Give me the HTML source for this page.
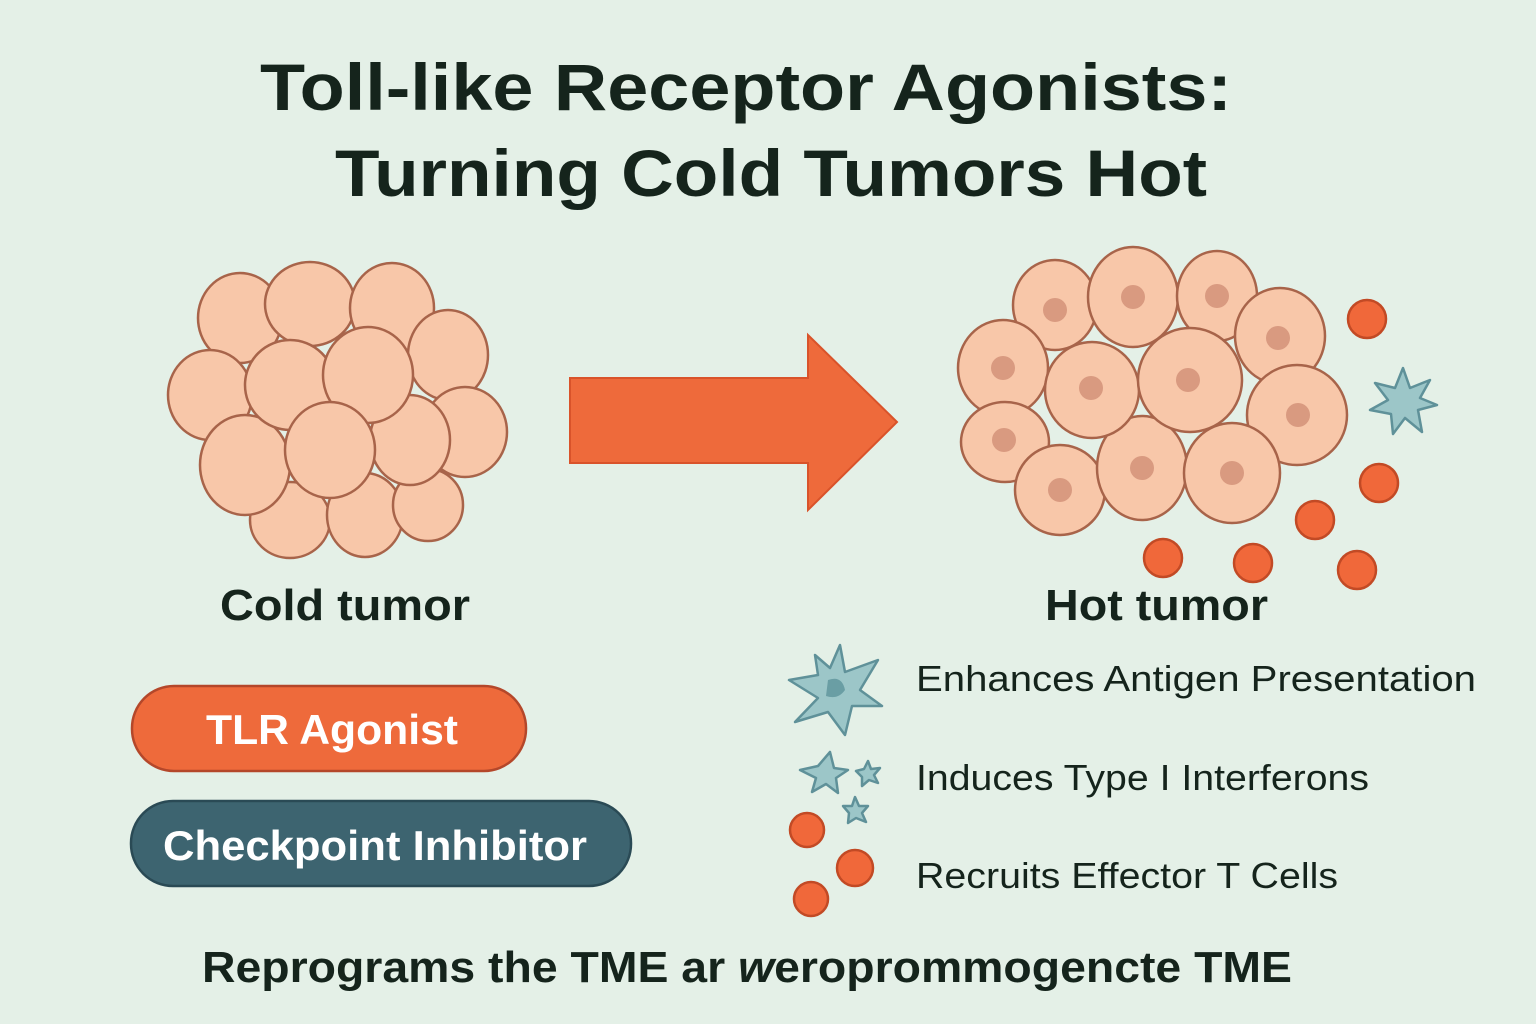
<!DOCTYPE html>
<html><head><meta charset="utf-8"><style>
html,body{margin:0;padding:0}
body{width:1536px;height:1024px;background:#e4f0e7;overflow:hidden}
svg{display:block}
</style></head><body>
<svg width="1536" height="1024" viewBox="0 0 1536 1024" xmlns="http://www.w3.org/2000/svg" font-family="Liberation Sans, sans-serif">
<rect width="1536" height="1024" fill="#e4f0e7"/>
<text x="260" y="110" font-size="66" font-weight="bold" fill="#15241c" textLength="972" lengthAdjust="spacingAndGlyphs">Toll-like Receptor Agonists:</text>
<text x="335" y="196" font-size="66" font-weight="bold" fill="#15241c" textLength="872" lengthAdjust="spacingAndGlyphs">Turning Cold Tumors Hot</text>

<g fill="#f8c7a9" stroke="#a8644a" stroke-width="2.5">
<ellipse cx="290" cy="520" rx="40" ry="38"/>
<ellipse cx="365" cy="515" rx="38" ry="42"/>
<ellipse cx="428" cy="505" rx="35" ry="36"/>
<ellipse cx="240" cy="318" rx="42" ry="45"/>
<ellipse cx="310" cy="304" rx="45" ry="42"/>
<ellipse cx="392" cy="308" rx="42" ry="45"/>
<ellipse cx="448" cy="355" rx="40" ry="45"/>
<ellipse cx="465" cy="432" rx="42" ry="45"/>
<ellipse cx="210" cy="395" rx="42" ry="45"/>
<ellipse cx="245" cy="465" rx="45" ry="50"/>
<ellipse cx="410" cy="440" rx="40" ry="45"/>
<ellipse cx="290" cy="385" rx="45" ry="45"/>
<ellipse cx="368" cy="375" rx="45" ry="48"/>
<ellipse cx="330" cy="450" rx="45" ry="48"/>
</g>

<polygon points="570,378 808,378 808,335 897,422 808,510 808,463 570,463" fill="#ee6a3b" stroke="#d9532a" stroke-width="2"/>

<g fill="#f8c7a9" stroke="#a8644a" stroke-width="2.5">
<ellipse cx="1055" cy="305" rx="42" ry="45"/>
<ellipse cx="1133" cy="297" rx="45" ry="50"/>
<ellipse cx="1217" cy="296" rx="40" ry="45"/>
<ellipse cx="1280" cy="336" rx="45" ry="48"/>
<ellipse cx="1003" cy="368" rx="45" ry="48"/>
<ellipse cx="1297" cy="415" rx="50" ry="50"/>
<ellipse cx="1005" cy="442" rx="44" ry="40"/>
<ellipse cx="1060" cy="490" rx="45" ry="45"/>
<ellipse cx="1142" cy="468" rx="45" ry="52"/>
<ellipse cx="1232" cy="473" rx="48" ry="50"/>
<ellipse cx="1092" cy="390" rx="47" ry="48"/>
<ellipse cx="1190" cy="380" rx="52" ry="52"/>
</g>
<g fill="#d99a80">
<circle cx="1055" cy="310" r="12"/><circle cx="1133" cy="297" r="12"/><circle cx="1217" cy="296" r="12"/>
<circle cx="1278" cy="338" r="12"/><circle cx="1003" cy="368" r="12"/><circle cx="1091" cy="388" r="12"/>
<circle cx="1188" cy="380" r="12"/><circle cx="1298" cy="415" r="12"/><circle cx="1004" cy="440" r="12"/>
<circle cx="1060" cy="490" r="12"/><circle cx="1142" cy="468" r="12"/><circle cx="1232" cy="473" r="12"/>
</g>
<g fill="#f0683a" stroke="#c24a25" stroke-width="2.5">
<circle cx="1367" cy="319" r="19"/><circle cx="1379" cy="483" r="19"/><circle cx="1315" cy="520" r="19"/>
<circle cx="1357" cy="570" r="19"/><circle cx="1163" cy="558" r="19"/><circle cx="1253" cy="563" r="19"/>
<circle cx="807" cy="830" r="17"/><circle cx="855" cy="868" r="18"/><circle cx="811" cy="899" r="17"/>
</g>
<g fill="#9cc6c8" stroke="#5f9199" stroke-width="2.5" stroke-linejoin="round">
<polygon points="1403,368 1410,388 1430,380 1420,398 1437,405 1418,410 1422,432 1405,418 1393,434 1391,414 1370,410 1388,400 1375,383 1395,388"/>
<polygon points="840,645 845,672 878,660 860,690 882,706 852,706 845,735 828,712 795,722 818,698 789,680 818,675 815,655 830,668"/>
<polygon points="830,752 834,768 848,770 836,778 838,793 826,784 812,792 816,778 800,770 818,766"/>
<polygon points="868,761 871,769 880,768 874,775 878,783 869,780 862,786 862,777 856,771 864,769"/>
<polygon points="855,797 859,806 868,806 862,813 866,822 856,818 848,823 849,813 843,806 852,806"/>
</g>
<path d="M828,680 Q842,675 845,690 Q838,700 826,696 Z" fill="#6a9ea4"/>

<text x="220" y="620" font-size="44" font-weight="bold" fill="#15241c" textLength="250" lengthAdjust="spacingAndGlyphs">Cold tumor</text>
<text x="1045" y="620" font-size="44" font-weight="bold" fill="#15241c" textLength="223" lengthAdjust="spacingAndGlyphs">Hot tumor</text>

<rect x="132" y="686" width="394" height="85" rx="42" fill="#ee6a3b" stroke="#b4472a" stroke-width="2.5"/>
<text x="206" y="744" font-size="42" font-weight="bold" fill="#fff" textLength="252" lengthAdjust="spacingAndGlyphs">TLR Agonist</text>
<rect x="131" y="801" width="500" height="85" rx="42" fill="#3d6470" stroke="#2a4a55" stroke-width="2.5"/>
<text x="163" y="860" font-size="42" font-weight="bold" fill="#fff" textLength="424" lengthAdjust="spacingAndGlyphs">Checkpoint Inhibitor</text>

<g font-size="36" fill="#15241c">
<text x="916" y="691" textLength="560" lengthAdjust="spacingAndGlyphs">Enhances Antigen Presentation</text>
<text x="916" y="790" textLength="453" lengthAdjust="spacingAndGlyphs">Induces Type I Interferons</text>
<text x="916" y="888" textLength="422" lengthAdjust="spacingAndGlyphs">Recruits Effector T Cells</text>
</g>
<text x="202" y="982" font-size="44" font-weight="bold" fill="#15241c" textLength="1090" lengthAdjust="spacingAndGlyphs">Reprograms the TME ar <tspan font-style="italic">w</tspan>eroprommogencte TME</text>
</svg>
</body></html>
